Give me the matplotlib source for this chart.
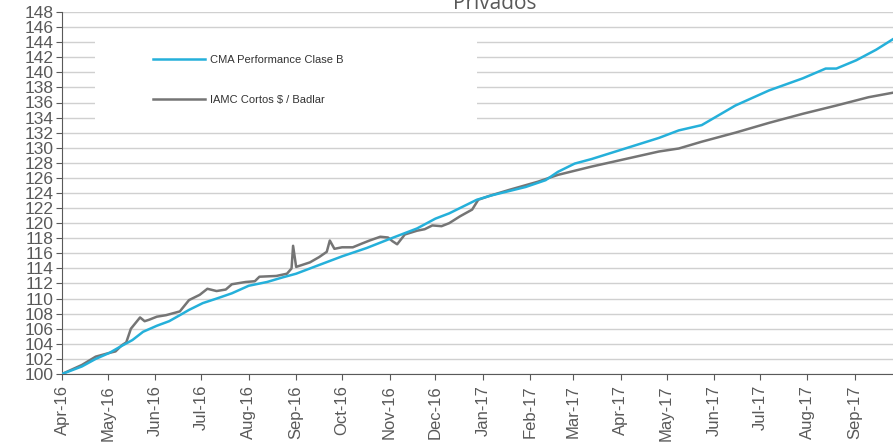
import pandas as pd
import matplotlib.pyplot as plt
import matplotlib.dates as mdates
from matplotlib.patches import Rectangle

# CMA Performance Clase B
cma_dates = ['2016-04-01', '2016-04-14', '2016-04-23', '2016-05-02', '2016-05-08', '2016-05-17',
             '2016-05-24', '2016-06-02', '2016-06-10', '2016-06-17', '2016-06-23', '2016-07-02',
             '2016-07-11', '2016-07-21', '2016-08-01', '2016-08-13', '2016-08-23', '2016-09-01',
             '2016-09-14', '2016-10-01', '2016-10-17', '2016-11-01', '2016-11-19', '2016-12-01',
             '2016-12-10', '2016-12-17', '2016-12-28', '2017-01-07', '2017-01-29', '2017-02-11',
             '2017-02-19', '2017-03-02', '2017-03-13', '2017-04-04', '2017-04-26', '2017-05-09',
             '2017-05-24', '2017-06-15', '2017-07-07', '2017-07-29', '2017-08-13', '2017-08-20',
             '2017-09-02', '2017-09-15', '2017-09-26']
cma_values = [100.0, 101.0, 102.0, 102.8, 103.5, 104.5,
              105.6, 106.4, 107.0, 107.8, 108.5, 109.4,
              110.0, 110.7, 111.7, 112.2, 112.8, 113.3,
              114.3, 115.6, 116.7, 117.9, 119.3, 120.6,
              121.3, 122.0, 123.1, 123.7, 124.8, 125.7,
              126.8, 127.9, 128.5, 129.9, 131.3, 132.3,
              133.0, 135.6, 137.6, 139.2, 140.5, 140.5,
              141.6, 143.0, 144.4]

# IAMC Cortos $ / Badlar
iamc_dates = ['2016-04-01', '2016-04-14', '2016-04-23', '2016-05-02', '2016-05-06', '2016-05-10',
              '2016-05-13', '2016-05-16', '2016-05-22', '2016-05-25', '2016-05-28', '2016-06-02',
              '2016-06-08', '2016-06-17', '2016-06-23', '2016-06-30', '2016-07-05', '2016-07-11',
              '2016-07-17', '2016-07-21', '2016-07-30', '2016-08-05', '2016-08-08', '2016-08-19',
              '2016-08-26', '2016-08-29', '2016-08-30', '2016-09-01', '2016-09-10', '2016-09-16',
              '2016-09-21', '2016-09-23', '2016-09-26', '2016-10-01', '2016-10-08', '2016-10-14',
              '2016-10-19', '2016-10-26', '2016-10-31', '2016-11-03', '2016-11-06', '2016-11-11',
              '2016-11-19', '2016-11-24', '2016-11-29', '2016-12-05', '2016-12-10', '2016-12-17',
              '2016-12-25', '2016-12-29', '2017-01-05', '2017-01-18', '2017-02-06', '2017-02-19',
              '2017-03-13', '2017-04-04', '2017-04-26', '2017-05-09', '2017-05-24', '2017-06-15',
              '2017-07-07', '2017-07-29', '2017-08-20', '2017-09-10', '2017-09-26']
iamc_values = [100.0, 101.2, 102.3, 102.8, 103.0, 103.8,
               104.2, 106.0, 107.5, 107.0, 107.2, 107.6,
               107.8, 108.3, 109.8, 110.5, 111.3, 111.0,
               111.2, 111.9, 112.2, 112.3, 112.9, 113.0,
               113.3, 114.0, 117.0, 114.2, 114.8, 115.5,
               116.2, 117.7, 116.6, 116.8, 116.8, 117.3,
               117.7, 118.2, 118.1, 117.6, 117.2, 118.5,
               119.0, 119.2, 119.7, 119.6, 120.0, 120.9,
               121.8, 123.1, 123.6, 124.4, 125.5, 126.4,
               127.5, 128.5, 129.5, 129.9, 130.8, 132.0,
               133.3, 134.5, 135.6, 136.7, 137.3]

months = pd.date_range('2016-04-01', '2017-09-01', freq='MS')
yticks = list(range(100, 149, 2))

fig = plt.figure(figsize=(8.93, 4.46), dpi=100)
ax = fig.add_axes([62 / 893, 1 - 374 / 446, 831 / 893, 362 / 446])

tick_font = ['Liberation Sans Narrow', 'Liberation Sans', 'DejaVu Sans']

ax.plot(pd.to_datetime(cma_dates), cma_values, color='#25B0DA', lw=1.8, label='CMA Performance Clase B', zorder=4)
ax.plot(pd.to_datetime(iamc_dates), iamc_values, color='#757575', lw=1.8, label='IAMC Cortos $ / Badlar', zorder=3)

ax.set_ylim(100, 148)
ax.set_xlim(pd.Timestamp('2016-04-01'), pd.Timestamp('2017-09-26'))
ax.set_yticks(yticks)
ax.set_xticks(months)
ax.xaxis.set_major_formatter(mdates.DateFormatter('%b-%y'))
ax.grid(axis='y', color='#D0D0D0', lw=1)
ax.set_axisbelow(True)

for s in ['top', 'right']:
    ax.spines[s].set_visible(False)
for s in ['left', 'bottom']:
    ax.spines[s].set_color('#595959')
ax.tick_params(axis='both', colors='#595959', length=4, direction='out')
ax.tick_params(axis='y', pad=2)
ax.tick_params(axis='x', pad=4)
for lab in ax.get_yticklabels():
    lab.set_family(tick_font)
    lab.set_fontsize(12.5)
    lab.set_color('#595959')
for lab in ax.get_xticklabels():
    lab.set_family(tick_font)
    lab.set_fontsize(12)
    lab.set_color('#595959')
    lab.set_rotation(90)

# white block behind the legend hides the gridlines there
ax.add_patch(Rectangle((33 / 831, (374 - 124) / 362), 382 / 831, 94 / 362,
                       transform=ax.transAxes, facecolor='white', edgecolor='none', zorder=2))
leg = ax.legend(loc='upper left', bbox_to_anchor=(91 / 831, (374 - 55) / 362), frameon=False,
                borderpad=0, borderaxespad=0, handlelength=4.7, handletextpad=0.45,
                labelspacing=2.7, prop={'family': tick_font, 'size': 8})
for t in leg.get_texts():
    t.set_color('#333333')

fig.text(495 / 893, 1 - 9 / 446, 'Privados', ha='center', va='baseline',
         fontsize=15, color='#595959', family=['Open Sans', 'DejaVu Sans'])

fig.savefig('out.png', dpi=100)
